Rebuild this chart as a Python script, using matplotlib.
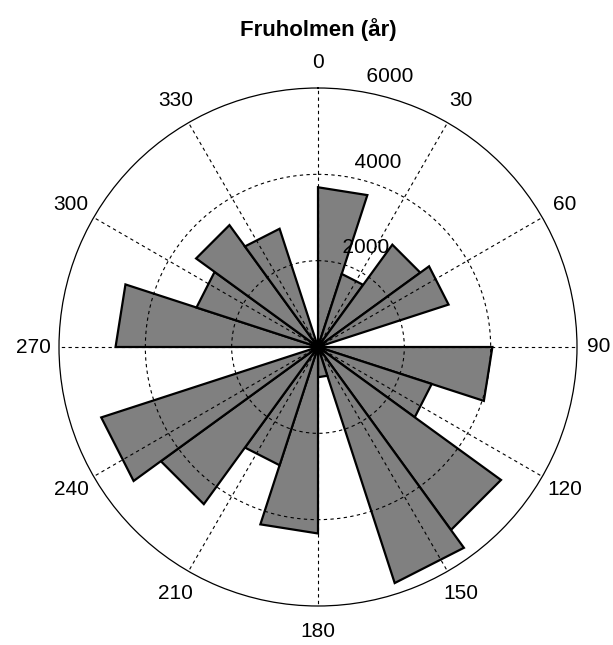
import numpy as np
import matplotlib
matplotlib.use("Agg")
import matplotlib.pyplot as plt

# =========================
# Data: rose diagram, 20 bins of 18 degrees (compass, clockwise from north)
# =========================
bin_edges_deg = np.arange(0, 361, 18)
counts = [3700, 1780, 2930, 3180, 0,
          4040, 2770, 5240, 5750, 700,
          4320, 2880, 4500, 5280, 0,
          4690, 2960, 3490, 2880, 0]

theta_ticks = list(range(0, 360, 30))
theta_labels = [str(t) for t in theta_ticks]
r_ticks = [2000, 4000, 6000]
r_max = 6000
title = "Fruholmen (år)"

# =========================
# Figure / polar axes
# =========================
fig = plt.figure(figsize=(6.13, 6.45), dpi=100)
ax = fig.add_axes([59 / 613, 39 / 645, 518 / 613, 518 / 645], projection="polar")
ax.set_theta_zero_location("N")
ax.set_theta_direction(-1)
ax.set_ylim(0, r_max)

# wedges drawn as triangles (straight outer edge, like MATLAB rose)
for i, v in enumerate(counts):
    if v <= 0:
        continue
    t1 = np.deg2rad(bin_edges_deg[i])
    t2 = np.deg2rad(bin_edges_deg[i + 1])
    ax.fill([0, t1, t2, 0], [0, v, v, 0],
            facecolor="#808080", edgecolor="black", linewidth=1.6,
            joinstyle="miter", zorder=2)

# =========================
# Grid: dashed rings and spokes on top of the wedges
# =========================
ax.set_axisbelow(False)
ax.set_rgrids([2000, 4000], labels=["", ""])
ax.set_thetagrids(theta_ticks, labels=[""] * len(theta_ticks))
ax.grid(True, color="black", linestyle=(0, (3, 3)), linewidth=0.8, zorder=3)
ax.spines["polar"].set_color("black")
ax.spines["polar"].set_linewidth(0.9)
ax.tick_params(length=0)

# angle labels just outside the circle (90 sits right at the figure edge)
for t, lab in zip(theta_ticks, theta_labels):
    rr = r_max * (1.085 if t == 90 else 1.1)
    ax.text(np.deg2rad(t), rr, lab, ha="center", va="center",
            fontsize=15, family="Liberation Sans", clip_on=False)

# radius labels along the 8 degree line
for r in r_ticks:
    ax.text(np.deg2rad(8), r + 100, "  " + str(r), ha="left", va="bottom",
            fontsize=15, family="Liberation Sans", clip_on=False, zorder=4)

fig.text(318 / 613, 1 - 30 / 645, title, ha="center", va="center",
         fontsize=16, fontweight="bold", family="Liberation Sans")

plt.savefig("out.png", dpi=100)
plt.close()
